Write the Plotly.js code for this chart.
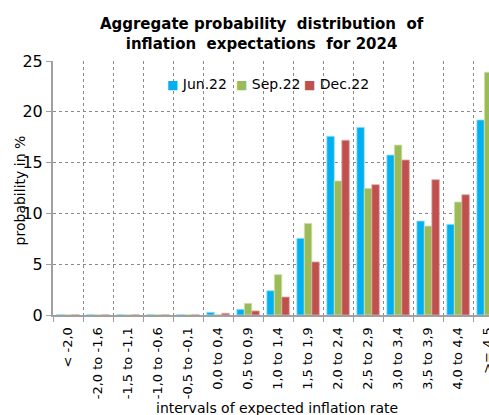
<!DOCTYPE html>
<html><head><meta charset="utf-8">
<script src="https://cdn.plot.ly/plotly-3.0.1.min.js"></script>
<style>html,body{margin:0;padding:0;background:#fff}#chart{width:489px;height:415px}</style>
</head><body><div id="chart"></div>
<script>
const categories = ["< -2,0","-2,0 to -1,6","-1,5 to -1,1","-1,0 to -0,6","-0,5 to -0,1","0,0 to 0,4","0,5 to 0,9","1,0 to 1,4","1,5 to 1,9","2,0 to 2,4","2,5 to 2,9","3,0 to 3,4","3,5 to 3,9","4,0 to 4,4",">= 4,5"];
const jun22 = [0.05,0.05,0.05,0.05,0.05,0.27,0.56,2.39,7.55,17.6,18.47,15.75,9.25,8.92,19.2];
const sep22 = [0.02,0.02,0.02,0.02,0.02,0.05,1.15,3.97,9.02,13.2,12.47,16.73,8.76,11.12,23.9];
const dec22 = [0.02,0.02,0.02,0.02,0.02,0.17,0.4,1.77,5.22,17.2,12.83,15.26,13.32,11.84,21.0];
const seriesNames = ["Jun.22","Sep.22","Dec.22"];
const colors = ["#00B0F0","#9BBB59","#C0504D"];
const edge = ["#9fe0f8","#d2e2b0","#e2aaa8"];
const font = "DejaVu Sans, Verdana, sans-serif";
const data = [jun22, sep22, dec22].map((v,i)=>({
  type:"bar", x:categories, y:v, name:seriesNames[i],
  marker:{color:colors[i], line:{color:edge[i], width:0.8}}
}));
const legendX = [0.257, 0.415, 0.571];
const annotations = seriesNames.map((n,i)=>({
  xref:"paper", yref:"paper", x:legendX[i], y:0.909, xanchor:"left", yanchor:"middle",
  showarrow:false, font:{size:14, family:font, color:"#000"},
  text:"<span style='color:"+colors[i]+";font-size:12px'>■</span> "+n
}));
annotations.push({xref:"paper", yref:"paper", x:-0.076, y:0.49, xanchor:"center", yanchor:"middle",
  textangle:-90, showarrow:false, font:{size:14, family:font, color:"#000"}, text:"probability in %"});
annotations.push({xref:"paper", yref:"paper", x:0.514, y:-0.366, xanchor:"center", yanchor:"middle",
  showarrow:false, font:{size:14, family:font, color:"#000"}, text:"intervals of expected inflation rate"});
const layout = {
  width:489, height:415,
  margin:{l:53, r:0, t:61, b:100},
  paper_bgcolor:"#fff", plot_bgcolor:"#fff",
  font:{family:font, color:"#000"},
  barmode:"group", bargap:0.25, bargroupgap:0,
  showlegend:false,
  annotations:annotations,
  title:{text:"<b>Aggregate probability  distribution  of<br>inflation  expectations  for 2024</b>",
    x:0.535, xanchor:"center", y:0.93, yanchor:"middle", font:{size:15, family:font, color:"#000"}},
  xaxis:{type:"category", range:[-0.5, 14.03], tickson:"boundaries", ticks:"outside", ticklen:5, tickcolor:"#a0a0a0",
    showline:true, linecolor:"#a0a0a0", linewidth:2, showgrid:true, gridcolor:"#8a8a8a", griddash:"dot", gridwidth:1,
    tickangle:-90, tickfont:{size:13, family:font}, automargin:false, ticklabelstandoff:5},
  yaxis:{range:[0,25], dtick:5, tick0:0, ticks:"outside", ticklen:5, tickcolor:"#a0a0a0",
    showline:true, linecolor:"#a0a0a0", linewidth:2, showgrid:true, gridcolor:"#8a8a8a", griddash:"dot", gridwidth:1,
    zeroline:false, tickfont:{size:16, family:font}, automargin:false}
};
Plotly.newPlot("chart", data, layout, {displayModeBar:false, staticPlot:true});
</script></body></html>
